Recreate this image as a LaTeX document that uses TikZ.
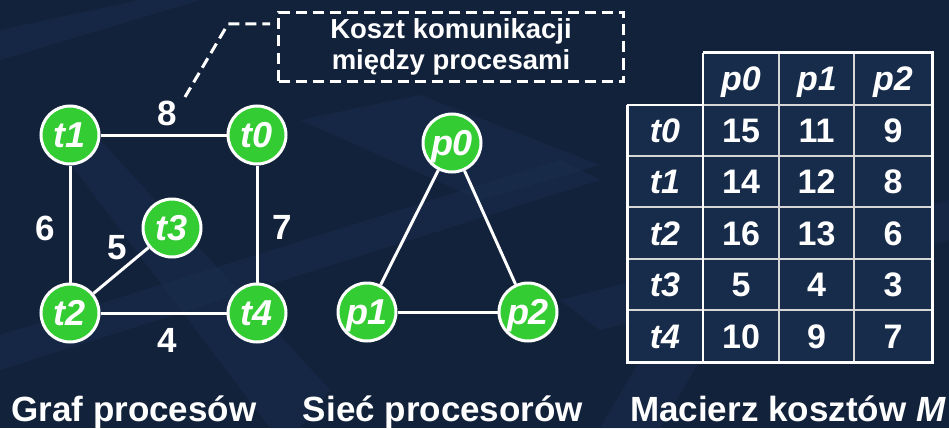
\documentclass[tikz,border=0pt]{standalone}
\usepackage{fontspec}
\setmainfont{Liberation Sans}
\definecolor{bgnavy}{HTML}{12223B}
\definecolor{bandblue}{HTML}{1A2F4F}
\definecolor{nodegreen}{HTML}{33CC33}
\definecolor{cellblue}{HTML}{172B4A}
\definecolor{gridgray}{HTML}{D6D6D6}
\begin{document}
\begin{tikzpicture}[x=1pt,y=-1pt,
  vert/.style={circle, draw=white, line width=3pt, fill=nodegreen,
    minimum size=58pt, inner sep=0pt, text=white, text depth=0pt,
    font=\fontsize{36}{36}\selectfont\bfseries\itshape},
  link/.style={draw=white, line width=3pt},
  wlabel/.style={text=white, inner sep=0pt,
    font=\fontsize{35}{35}\selectfont\bfseries},
  caption/.style={text=white, inner sep=0pt, anchor=base,
    font=\fontsize{35}{35}\selectfont\bfseries},
  note/.style={draw=white, line width=3pt, dash pattern=on 11pt off 6pt,
    minimum width=345pt, minimum height=69pt, align=center, text=white,
    font=\fontsize{27.5}{31}\selectfont\bfseries},
  leader/.style={draw=white, line width=3pt, dash pattern=on 11pt off 6pt},
  tcell/.style={text=white, inner sep=0pt, text depth=0pt,
    font=\fontsize{34}{34}\selectfont\bfseries},
  thead/.style={tcell, font=\fontsize{34}{34}\selectfont\bfseries\itshape},
  band/.style={fill=bandblue, opacity=0.45}]

% background and faint diagonal bands
\fill[bgnavy] (0,0) rectangle (949,428);
\useasboundingbox (0,0) rectangle (949,428);
\fill[band] (0,30) -- (140,0) -- (200,0) -- (0,60) -- cycle;
\fill[band] (60,150) -- (100,140) -- (330,390) -- (300,428) -- (270,428) -- cycle;
\fill[band] (0,335) -- (560,160) -- (600,180) -- (0,370) -- cycle;
\fill[band] (300,120) -- (420,95) -- (600,165) -- (480,200) -- cycle;
\fill[band] (560,300) -- (949,200) -- (949,240) -- (600,330) -- cycle;
\fill[band] (600,428) -- (640,360) -- (700,360) -- (660,428) -- cycle;

% process graph
\node[vert] (t1) at (70,135) {t1};
\node[vert] (t0) at (257,135) {t0};
\node[vert] (t3) at (172,228) {t3};
\node[vert] (t2) at (70,313) {t2};
\node[vert] (t4) at (257,313) {t4};
\draw[link] (t1) -- (t0);
\draw[link] (t1) -- (t2);
\draw[link] (t0) -- (t4);
\draw[link] (t2) -- (t4);
\draw[link] (t2) -- (t3);
\node[wlabel] (w8) at (167,113) {8};
\node[wlabel] (w6) at (45,228) {6};
\node[wlabel] (w5) at (117,248) {5};
\node[wlabel] (w7) at (282,227) {7};
\node[wlabel] (w4) at (167,340) {4};

% callout for the edge weights
\node[note] (cost) at (451,47) {Koszt komunikacji\\między procesami};
\coordinate (leadA) at (185,97);
\coordinate (leadB) at (228,24);
\coordinate (leadC) at (270,24);
\draw[leader] (leadA) -- (leadB) -- (leadC);

% processor network
\node[vert] (p0) at (452,143) {p0};
\node[vert] (p1) at (367,312) {p1};
\node[vert] (p2) at (528,312) {p2};
\draw[link] (p0) -- (p1);
\draw[link] (p0) -- (p2);
\draw[link] (p1) -- (p2);

% cost matrix
\fill[cellblue] (703,53) rectangle (932,362);
\fill[cellblue] (627,105) rectangle (703,362);
\foreach \y in {156,207,259,310}
  \draw[gridgray, line width=2pt] (627,\y) -- (932,\y);
\draw[gridgray, line width=2pt] (703,105) -- (932,105);
\foreach \x in {779,854}
  \draw[gridgray, line width=2pt] (\x,53) -- (\x,362);
\draw[white, line width=2.5pt] (703,53) -- (703,362);
\draw[white, line width=2.5pt] (627,105) -- (703,105);
\draw[white, line width=3pt] (703,53) -- (932,53) -- (932,362) -- (627,362) -- (627,105);

\foreach \lbl [count=\c] in {p0,p1,p2}
  \node[thead] (h\c) at ({703+76*(\c-1)+38},79) {\lbl};

\foreach \lbl/\a/\b/\d [count=\r] in {t0/15/11/9, t1/14/12/8, t2/16/13/6, t3/5/4/3, t4/10/9/7} {
  \node[thead] (r\r) at (665,{105+51.4*(\r-1)+25.7}) {\lbl};
  \node[tcell] (c\r a) at (741,{105+51.4*(\r-1)+25.7}) {\a};
  \node[tcell] (c\r b) at (816.5,{105+51.4*(\r-1)+25.7}) {\b};
  \node[tcell] (c\r c) at (893,{105+51.4*(\r-1)+25.7}) {\d};
}

% captions
\node[caption] (capA) at (134,421) {Graf procesów};
\node[caption] (capB) at (443,421) {Sieć procesorów};
\node[caption] (capC) at (788,421) {Macierz kosztów \textit{M}};
\end{tikzpicture}
\end{document}
